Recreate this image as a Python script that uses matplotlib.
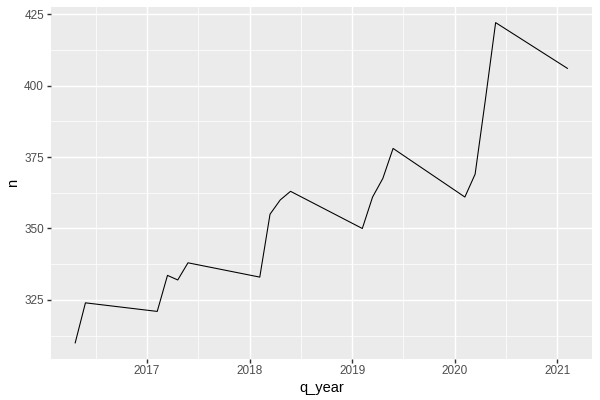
import numpy as np
import matplotlib
matplotlib.use('Agg')
import matplotlib.pyplot as plt
from matplotlib.ticker import MultipleLocator

plt.rcParams['font.family'] = ['Liberation Sans', 'DejaVu Sans']

# quarterly counts, q_year = year + quarter/10
q_year = [2016.3, 2016.4,
          2017.1, 2017.2, 2017.3, 2017.4,
          2018.1, 2018.2, 2018.3, 2018.4,
          2019.1, 2019.2, 2019.3, 2019.4,
          2020.1, 2020.2, 2020.3, 2020.4,
          2021.1]
n = [310, 324,
     321, 333.6, 332, 338,
     333, 355, 360, 363,
     350, 361, 367.5, 378,
     361, 369, 395, 422,
     406]

k = 96/72  # ggplot drawn at 96 dpi
fig = plt.figure(figsize=(600/72, 400/72), dpi=72)
ax = fig.add_axes([0.0843, 0.1028, 0.9867 - 0.0843, 0.9835 - 0.1028])
ax.set_facecolor('#EBEBEB')

ax.plot(q_year, n, color='black', lw=1.07, zorder=3)

xr = max(q_year) - min(q_year)
ax.set_xlim(min(q_year) - 0.05*xr, max(q_year) + 0.05*xr)
yr = max(n) - min(n)
ax.set_ylim(min(n) - 0.05*yr, max(n) + 0.05*yr)

ax.xaxis.set_major_locator(MultipleLocator(1))
ax.xaxis.set_minor_locator(MultipleLocator(0.5))
ax.yaxis.set_major_locator(MultipleLocator(25))
ax.yaxis.set_minor_locator(MultipleLocator(12.5))
ax.xaxis.set_major_formatter(plt.FuncFormatter(lambda v, p: f'{int(round(v))}'))

ax.grid(which='major', color='white', lw=1.07*k)
ax.grid(which='minor', color='white', lw=0.53*k)
ax.set_axisbelow(True)
for s in ax.spines.values():
    s.set_visible(False)

ax.tick_params(which='major', length=2.75*k, width=1.07*k, color='#333333',
               labelsize=8.8*k, labelcolor='#4D4D4D', pad=2.2*k)
ax.tick_params(which='minor', length=0)

ax.set_xlabel('q_year', fontsize=11*k, color='black', labelpad=2.75*k)
ax.set_ylabel('n', fontsize=11*k, color='black', labelpad=2.75*k)

fig.savefig('out.png', dpi=72)
